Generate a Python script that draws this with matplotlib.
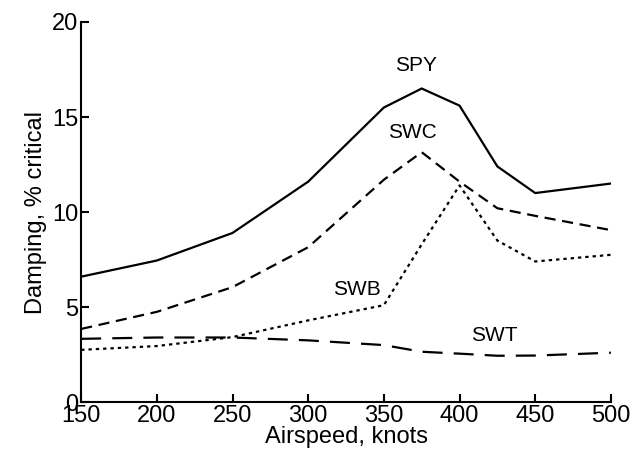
import numpy as np
import matplotlib
matplotlib.use("Agg")
import matplotlib.pyplot as plt

plt.rcParams['font.family'] = ['Liberation Sans', 'DejaVu Sans']

# airspeed points (knots)
speed = [150, 200, 250, 300, 350, 375, 400, 425, 450, 500]

# damping, % critical
spy = [6.6, 7.45, 8.9, 11.6, 15.5, 16.5, 15.6, 12.4, 11.0, 11.5]
swc = [3.85, 4.75, 6.05, 8.15, 11.7, 13.15, 11.6, 10.2, 9.8, 9.05]
swb = [2.75, 2.95, 3.42, 4.3, 5.1, 8.3, 11.4, 8.5, 7.4, 7.75]
swt = [3.33, 3.4, 3.4, 3.25, 3.0, 2.65, 2.55, 2.44, 2.45, 2.6]

labels = ["SPY", "SWC", "SWB", "SWT"]
label_pos = [(371, 17.7), (369, 14.2), (332, 5.95), (423, 3.5)]

fig = plt.figure(figsize=(6.39, 4.58), dpi=100)
ax = fig.add_axes([0.127, 0.122, 0.829, 0.830])

lw = 1.6
ax.plot(speed, spy, color="black", lw=lw, solid_joinstyle="miter")
ax.plot(speed, swc, color="black", lw=lw, linestyle=(0, (5, 3)))
ax.plot(speed, swb, color="black", lw=lw, linestyle=(0, (1.5, 1.8)))
ax.plot(speed, swt, color="black", lw=lw, linestyle=(0, (9, 5)))

for txt, (x, y) in zip(labels, label_pos):
    ax.text(x, y, txt, fontsize=15, ha="center", va="center")

ax.set_xlim(150, 500)
ax.set_ylim(0, 20)
ax.set_xticks(np.arange(150, 501, 50))
ax.set_yticks([0, 5, 10, 15, 20])
ax.spines["top"].set_visible(False)
ax.spines["right"].set_visible(False)
ax.spines["left"].set_linewidth(1.5)
ax.spines["bottom"].set_linewidth(1.5)
ax.tick_params(direction="in", length=6, width=1.5, labelsize=17, pad=2)
ax.set_xlabel("Airspeed, knots", fontsize=17, labelpad=-1)
ax.set_ylabel("Damping, % critical", fontsize=17, labelpad=4)

fig.savefig("out.png", dpi=100)
